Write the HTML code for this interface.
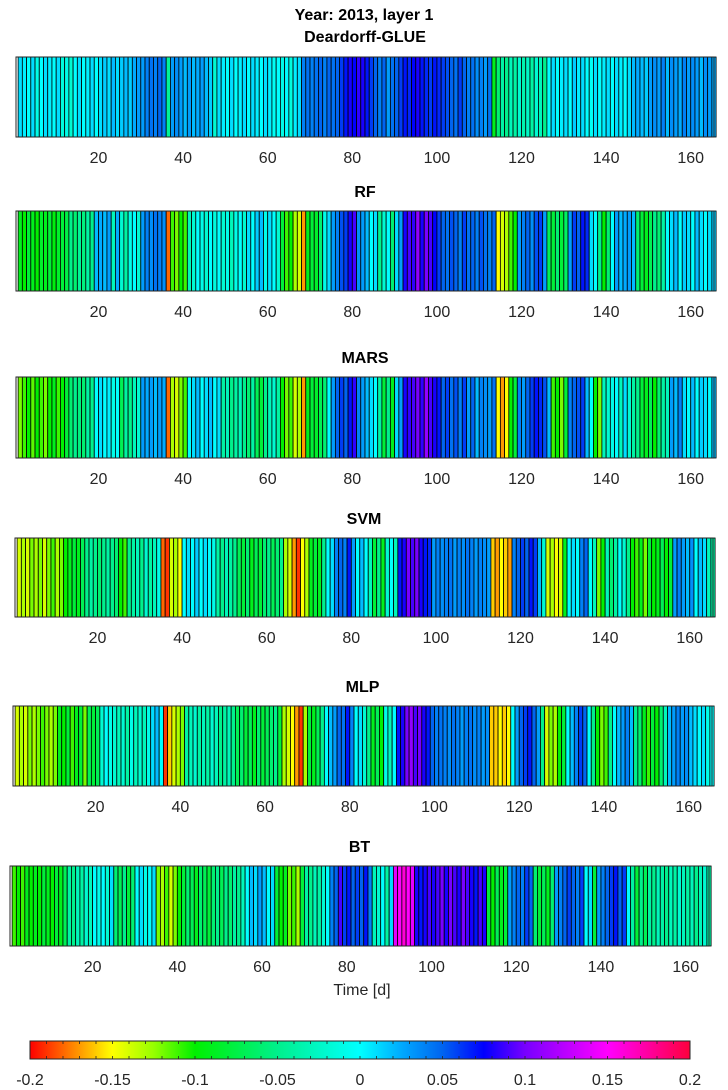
<!DOCTYPE html>
<html><head><meta charset="utf-8"><style>
body{margin:0;background:#fff;width:728px;height:1090px;overflow:hidden}
svg{display:block}
text{font-family:"Liberation Sans",sans-serif}
</style></head><body>
<svg id="chart" width="728" height="1090" viewBox="0 0 728 1090" xmlns="http://www.w3.org/2000/svg">
<text x="364" y="20" text-anchor="middle" font-size="16" font-weight="bold" fill="#000">Year: 2013, layer 1</text>
</svg>
<script>
const titles = ["Deardorff-GLUE","RF","MARS","SVM","MLP","BT"];
const xTicks = [20,40,60,80,100,120,140,160];
const cbTicks = ["-0.2","-0.15","-0.1","-0.05","0","0.05","0.1","0.15","0.2"];
const cbValues = [-0.2,-0.15,-0.1,-0.05,0,0.05,0.1,0.15,0.2];
const dg = [.01,.005,.0,.01,-.01,.0,.01,.005,.0,.01,
-.015,-.01,-.02,.0,.01,.0,.005,.01,.0,.01,
.015,.01,.02,.01,.015,.02,.015,.025,.03,.03,
.04,.045,.04,.05,.04,-.045,.03,.035,.03,.02,
.03,.02,.025,.03,.02,.015,-.02,.01,.005,.0,
.01,.0,.005,.01,.0,.01,.005,.0,.01,.005,
-.005,.0,-.01,.0,-.015,.005,.01,.04,.045,.04,
.045,.05,.04,.05,.045,.05,.06,.07,.08,.075,
.085,.08,.07,.06,.05,.04,.05,.03,.045,.05,
.06,.07,.065,.075,.08,.07,.065,.06,.07,.065,
.06,.055,.05,.045,.06,.05,.04,.045,.035,.04,
.03,.045,-.09,-.06,-.04,-.05,-.03,-.04,-.02,-.035,
-.025,-.04,-.02,-.03,-.05,.0,.01,.0,.005,.01,
.0,.015,.005,.01,.0,-.005,.01,.0,.005,.01,
.0,.01,.005,.0,.01,.02,.025,.02,.015,.03,
.035,.03,.04,.02,.035,.03,.025,.04,.03,.035,
.03,.02,.035,.03,.025];
const rf = [-.09,-.1,-.08,-.09,-.1,-.085,-.09,-.08,-.095,-.085,
-.08,-.075,-.05,-.06,-.045,-.055,-.04,-.05,.02,.025,
.02,.03,-.03,.025,-.02,-.04,-.01,.0,-.02,.03,
.04,.035,.045,.04,.035,-.18,-.11,-.12,-.1,-.11,
-.03,-.02,.0,-.01,-.02,.0,-.015,.0,-.02,-.01,
-.03,-.01,.0,-.02,.01,.0,.015,.02,-.01,.01,
.0,-.02,-.08,-.11,-.1,-.13,-.14,-.17,-.09,-.08,
-.085,-.06,-.01,.01,.03,.04,.055,.06,.08,.09,
.035,.03,.02,.0,.01,-.05,-.02,.0,-.06,.01,
.03,.08,.09,.085,.11,.08,.1,.09,.075,.06,
.05,.045,.055,.05,.04,.06,.045,.05,.04,.055,
.045,.04,.05,-.15,-.14,-.13,-.11,-.1,.03,.04,
.05,.035,.055,.06,.03,-.07,-.08,-.06,-.08,-.065,
.03,.06,.05,.07,.065,.01,.0,-.05,-.1,-.06,
.0,.03,.02,.025,.03,.02,-.06,-.08,-.09,-.07,
-.05,-.06,-.04,.0,.01,.02,.0,.015,.01,.0,
.02,.01,.0,.01,.015];
const mars = [-.12,-.11,-.1,-.115,-.1,-.11,-.12,-.1,-.09,-.11,
-.1,-.08,-.06,-.05,-.055,-.06,-.04,-.05,.0,.01,
.0,.005,-.01,.0,-.07,-.04,-.05,-.03,-.02,.03,
.025,.03,.02,.03,.025,-.18,-.13,-.14,-.12,-.11,
.0,.01,.02,.0,.01,.02,.0,.01,-.04,-.03,
-.05,-.04,-.03,-.05,-.06,-.04,-.07,-.08,-.05,-.03,
-.02,-.04,-.1,-.12,-.11,-.14,-.13,-.17,-.09,-.08,
-.085,-.07,-.06,.0,.03,.05,.06,.05,.07,.085,
.04,.03,.02,.01,.0,-.04,-.08,-.05,-.09,.01,
.03,.08,.085,.09,.1,.085,.11,.09,.08,.07,
.05,.06,.045,.055,.04,.06,.03,.05,.02,.04,
.035,.03,.045,-.15,-.17,-.15,-.1,-.08,.04,.03,
.05,.06,.07,.065,.055,.02,-.11,-.1,-.12,-.08,
.04,.05,.055,.06,.02,.0,-.1,-.12,-.03,-.02,
-.01,.0,-.03,.01,-.02,-.04,-.05,-.08,-.09,-.07,
-.1,-.06,-.04,-.03,.03,.02,.04,.01,.0,.02,
.0,.015,.01,.0,.02];
const svm = [-.14,-.13,-.14,-.12,-.13,-.12,-.14,-.12,-.11,-.13,
-.12,-.1,-.09,-.08,-.09,-.07,-.05,-.04,-.05,-.06,
-.05,-.04,-.05,-.06,-.1,-.11,-.05,-.04,-.03,-.05,
-.02,-.04,-.03,-.01,-.18,-.19,-.14,-.13,-.15,.0,
.01,.0,.015,.0,.01,.0,-.01,-.04,-.05,-.03,
-.04,-.05,-.07,-.08,-.06,-.09,-.07,-.08,-.06,-.05,
-.07,-.06,-.05,-.13,-.14,-.17,-.19,-.15,-.13,-.09,
-.08,-.09,-.05,.0,.01,.04,.05,.04,.07,.03,
.0,.02,.0,-.03,-.08,-.05,-.09,-.02,.0,-.03,
.07,.08,.1,.09,.1,.08,.07,.065,.03,.04,
.035,.04,.045,.03,.04,.035,.045,.04,.03,.04,
.035,.03,-.16,-.17,-.15,-.16,-.17,.04,.05,.06,
.05,.07,.06,.02,-.02,-.14,-.13,-.15,-.14,-.09,
.0,.01,.0,.04,.05,.0,-.03,-.12,-.1,-.03,
-.06,-.04,.0,-.02,-.05,-.1,-.11,-.09,-.12,-.08,
-.1,-.09,-.07,-.1,-.08,.03,.04,.03,.02,.035,
.0,.02,.01,-.03,-.04];
const mlp = [-.14,-.13,-.14,-.12,-.13,-.12,-.11,-.12,-.13,-.12,
-.09,-.1,-.08,-.11,-.09,-.08,-.12,-.07,-.08,-.07,
-.02,.0,-.01,-.02,-.03,-.02,-.04,-.01,-.03,-.02,
-.03,-.01,.01,.02,.0,-.19,-.16,-.14,-.13,-.12,
-.04,-.03,-.02,-.04,-.03,-.04,-.02,-.03,-.05,-.04,
-.03,-.05,-.07,-.06,-.08,-.07,-.09,-.06,-.08,-.07,
-.06,-.05,-.08,-.13,-.14,-.15,-.17,-.19,-.13,-.08,
-.09,-.07,-.05,.0,.02,.03,.05,.045,.07,.04,
.0,.01,-.02,-.05,-.09,-.07,-.1,-.01,-.03,.0,
.07,.08,.1,.11,.09,.1,.08,.07,.05,.04,
.045,.04,.035,.045,.04,.03,.04,.045,.035,.04,
.03,.035,-.16,-.16,-.15,-.16,-.15,.0,.03,.05,
.06,.07,.05,.03,-.05,-.14,-.12,-.13,-.1,-.08,
.0,.02,.04,.06,.05,.0,-.05,-.1,-.12,-.11,
-.05,.0,.02,.03,.04,.02,-.05,-.06,-.09,-.11,
-.08,-.1,-.06,-.03,.02,.03,.04,.03,.035,.02,
.01,.0,.01,-.01,.0];
const bt = [-.11,-.1,-.11,-.09,-.1,-.09,-.1,-.08,-.09,-.1,
-.08,-.09,-.07,-.04,-.05,-.03,-.04,-.02,-.03,.0,
-.01,.0,-.02,.01,-.06,-.07,-.05,-.08,-.06,.0,
.01,-.01,.0,.01,-.12,-.13,-.11,-.14,-.12,-.1,
-.08,-.06,-.07,-.09,-.06,-.07,-.08,-.06,-.05,-.07,
-.05,-.06,-.04,-.05,-.03,.0,.02,.01,.03,.02,
.0,.01,-.08,-.1,-.09,-.12,-.11,-.13,-.08,-.04,
-.05,-.03,-.04,-.02,.0,.04,.05,.09,.06,.07,
.05,.06,.05,.07,.04,-.03,-.02,.0,-.04,.01,
.14,.15,.16,.15,.14,.08,.07,.08,.09,.08,
.09,.1,.08,.1,.09,.08,.1,.09,.08,.07,
.09,.08,-.08,-.1,-.07,-.09,-.08,.03,.04,.05,
.04,.06,.05,-.06,-.08,-.07,-.09,-.06,.03,.04,
.05,.06,.05,.04,.06,.0,.01,-.08,.03,.04,
.05,.06,.07,.05,.06,.0,-.04,-.08,-.05,-.07,
-.04,-.05,-.03,-.04,-.05,-.03,-.04,-.02,-.03,-.04,
-.03,-.05,-.03,-.02,-.04];
const series = [dg, rf, mars, svm, mlp, bt];

const NS = "http://www.w3.org/2000/svg";
const svg = document.getElementById('chart');
const panels = [
  {l:16,r:714,t:57,b:137,ty:42},
  {l:16,r:714,t:211,b:291,ty:197},
  {l:16,r:714,t:377,b:458,ty:363},
  {l:15,r:713,t:538,b:617,ty:524},
  {l:13,r:712,t:706,b:786,ty:692},
  {l:10,r:709,t:866,b:946,ty:852}
];
const stops = [[-0.2,[255,0,0]],[-0.175,[255,128,0]],[-0.15,[255,255,0]],[-0.125,[150,255,0]],[-0.1,[0,240,0]],[-0.05,[0,240,140]],[0,[0,255,255]],[0.025,[0,170,255]],[0.05,[0,100,240]],[0.075,[0,0,255]],[0.1,[120,0,255]],[0.15,[255,0,255]],[0.2,[255,0,60]]];
function color(v){
  v=Math.max(-0.2,Math.min(0.2,v));
  for(let i=0;i<stops.length-1;i++){
    const [a,ca]=stops[i],[b,cb]=stops[i+1];
    if(v<=b){const f=(v-a)/(b-a);return 'rgb('+ca.map((c,k)=>Math.round(c+(cb[k]-c)*f)).join(',')+')';}
  }
  return 'rgb(255,0,60)';
}
function mk(tag,attrs){const e=document.createElementNS(NS,tag);for(const k in attrs)e.setAttribute(k,attrs[k]);return e;}
series.forEach((vals,p)=>{
  const P=panels[p];
  const n=vals.length;
  const cw=(P.r-P.l)/n;
  const xScale=v=>P.l+(v-0.5)*cw;
  const g=mk('g',{});
  
  
  svg.appendChild(g);
  const tt=mk('text',{x:(P.l+P.r)/2,y:P.ty,'text-anchor':'middle','font-size':16,'font-weight':'bold',fill:'#000'});
  tt.textContent=titles[p];
  
  
  g.appendChild(tt);
  vals.forEach((v,i)=>{
    const r=mk('rect',{x:xScale(i+1),y:P.t,width:cw,height:P.b-P.t,fill:color(v),stroke:'#000','stroke-width':0.8});
    
    
    g.appendChild(r);
  });
  const fr=mk('rect',{x:P.l,y:P.t,width:P.r-P.l,height:P.b-P.t,fill:'none',stroke:'#262626','stroke-width':1});
  
  
  g.appendChild(fr);
  xTicks.forEach(t=>{
    const x=xScale(t);
    const tl=mk('text',{x:x,y:P.b+26,'text-anchor':'middle','font-size':16,fill:'#262626'});
    tl.textContent=t;
    
    
    g.appendChild(tl);
  });
});
const xt=mk('text',{x:362,y:995,'text-anchor':'middle','font-size':16,fill:'#262626'});
xt.textContent='Time [d]';


svg.appendChild(xt);
// colorbar
const cbL=30,cbR=690,cbT=1041,cbB=1059;
const defs=mk('defs',{});svg.appendChild(defs);
const lg=mk('linearGradient',{id:'cbg',x1:0,x2:1,y1:0,y2:0});
for(let i=0;i<=80;i++){const v=-0.2+i*0.005;lg.appendChild(mk('stop',{offset:(i/80),'stop-color':color(v)}));}
defs.appendChild(lg);
const cb=mk('rect',{x:cbL,y:cbT,width:cbR-cbL,height:cbB-cbT,fill:'url(#cbg)',stroke:'#262626','stroke-width':1});


svg.appendChild(cb);
const cbx=v=>cbL+(v+0.2)/0.4*(cbR-cbL);
for(let i=0;i<=40;i++){
  const x=cbx(-0.2+i*0.01);
  svg.appendChild(mk('line',{x1:x,x2:x,y1:cbT,y2:cbT+3,stroke:'#262626','stroke-width':0.8}));
  svg.appendChild(mk('line',{x1:x,x2:x,y1:cbB,y2:cbB-3,stroke:'#262626','stroke-width':0.8}));
}
cbValues.forEach((v,i)=>{
  const t=mk('text',{x:cbx(v),y:1085,'text-anchor':'middle','font-size':16,fill:'#262626'});
  t.textContent=cbTicks[i];
  
  
  svg.appendChild(t);
});
</script>
</body></html>
